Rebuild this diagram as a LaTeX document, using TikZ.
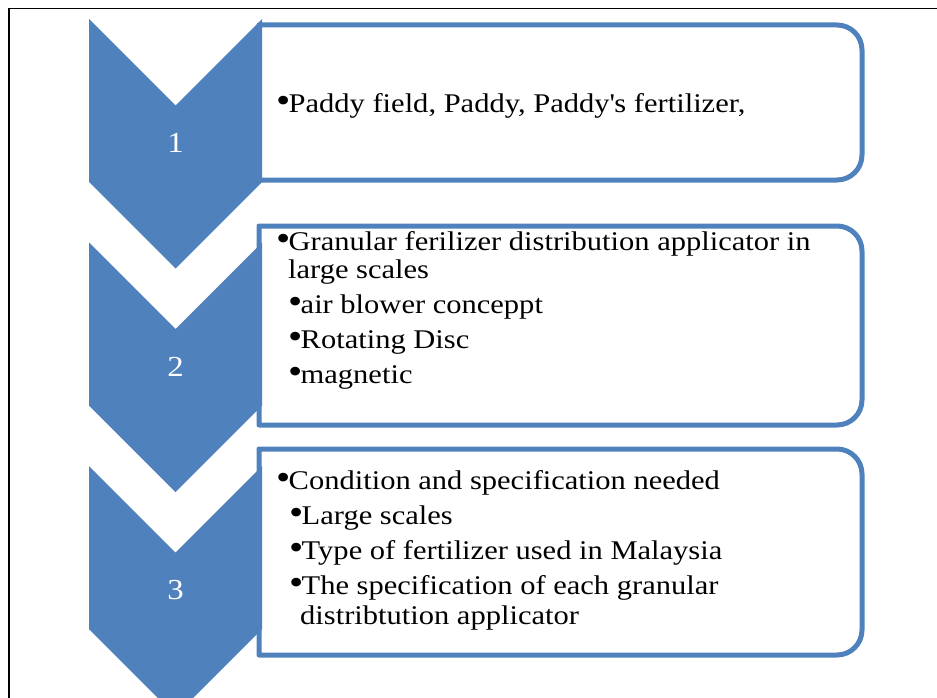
\documentclass[tikz,border=0pt]{standalone}
\usepackage{fontspec}
\setmainfont[FakeStretch=1.13]{Liberation Serif}
\definecolor{chevblue}{RGB}{79,129,189}
\newcommand\blt{\makebox[12.5pt][l]{\fontsize{36}{30}\selectfont•}}

\begin{document}
\begin{tikzpicture}[x=1pt, y=-1pt, font=\fontsize{27}{30}\selectfont,
    chev/.style={fill=chevblue},
    boxline/.style={draw=chevblue, line width=5pt, fill=white, line join=round},
    num/.style={text=white, inner sep=0pt, font=\fontsize{29}{30}\selectfont},
    item/.style={anchor=base west, inner sep=0pt}]
  % Page size and frame
  \clip (0,0) rectangle (937,698);
  \draw[line width=1.2pt] (9,698) -- (9,8.5) -- (937,8.5);

  % Rounded text boxes (round on the right side only)
  \draw[boxline] (259,25) -- (837,25) arc[start angle=-90, end angle=0, radius=25]
    -- (862,155) arc[start angle=0, end angle=90, radius=25] -- (259,180) -- cycle;
  \draw[boxline] (259,226) -- (837,226) arc[start angle=-90, end angle=0, radius=25]
    -- (862,400) arc[start angle=0, end angle=90, radius=25] -- (259,425) -- cycle;
  \draw[boxline] (259,449) -- (837,449) arc[start angle=-90, end angle=0, radius=25]
    -- (862,630) arc[start angle=0, end angle=90, radius=25] -- (259,655) -- cycle;

  % Chevrons with their step numbers
  \foreach \n/\ytop in {1/19, 2/242.5, 3/466} {
    \fill[chev] (89,\ytop) -- (175.5,\ytop+86.5) -- (262,\ytop) -- (262,\ytop+163)
      -- (175.5,\ytop+249.5) -- (89,\ytop+163) -- cycle;
    \node[num] (num\n) at (175.5,\ytop+124) {\n};
  }

  % Box 1
  \node[item] (p1) at (276,113) {\blt Paddy field, Paddy, Paddy\textquotesingle s fertilizer,};

  % Box 2
  \node[item] (g1) at (276,250) {\blt Granular ferilizer distribution applicator in};
  \node[item] (g2) at (288,278) {large scales};
  \node[item] (g3) at (288,313) {\blt air blower conceppt};
  \node[item] (g4) at (288,348) {\blt Rotating Disc};
  \node[item] (g5) at (288,383) {\blt magnetic};

  % Box 3
  \node[item] (c1) at (276,489) {\blt Condition and specification needed};
  \node[item] (c2) at (289,524) {\blt Large scales};
  \node[item] (c3) at (289,559) {\blt Type of fertilizer used in Malaysia};
  \node[item] (c4) at (289,594) {\blt The specification of each granular};
  \node[item] (c5) at (300,624) {distribtution applicator};
\end{tikzpicture}
\end{document}
